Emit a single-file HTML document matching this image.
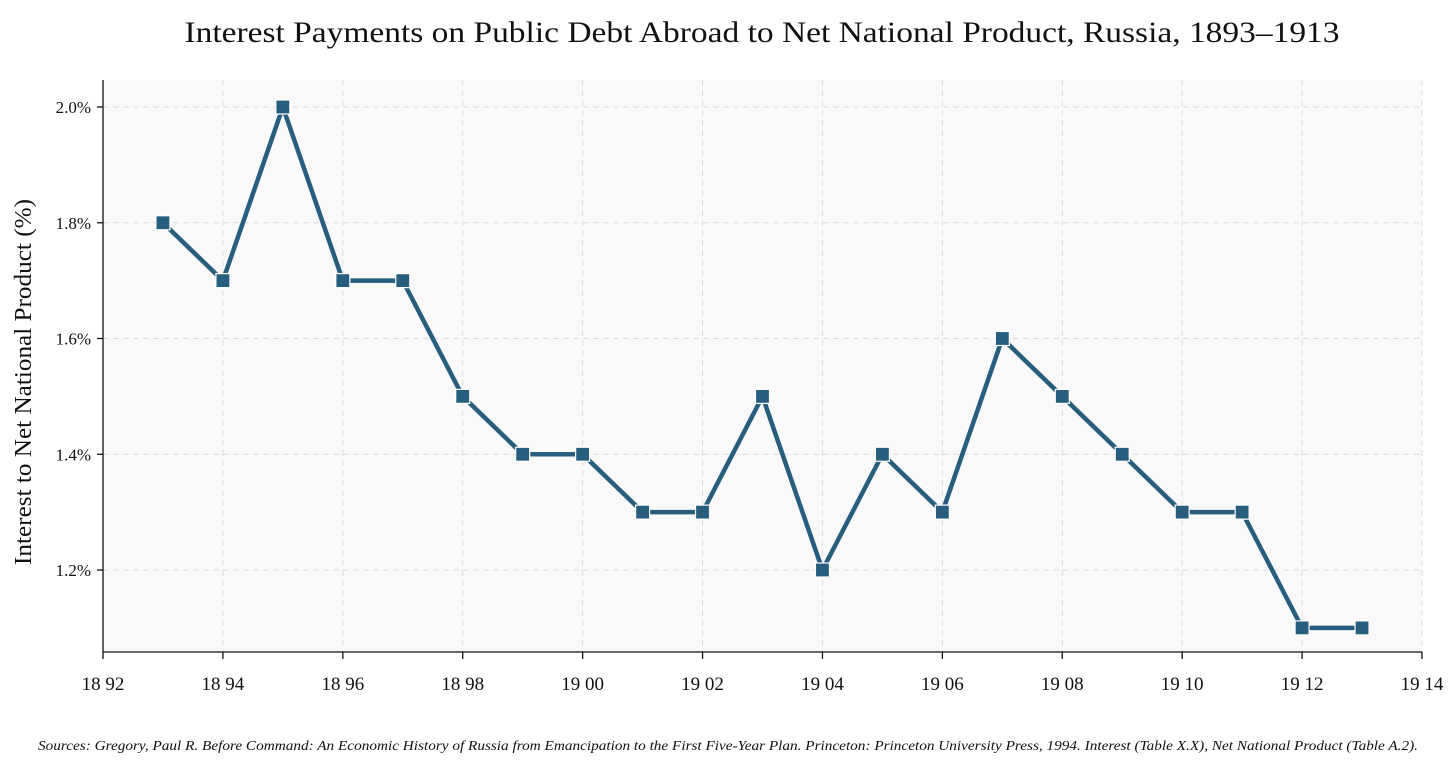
<!DOCTYPE html>
<html><head><meta charset="utf-8"><style>
body{margin:0;background:#fff;}
svg{display:block;font-family:"Liberation Serif",serif;}
</style></head><body>
<svg id="chart" width="1456" height="768">
<text x="762" y="42" text-anchor="middle" font-size="30" fill="#111" textLength="1155" lengthAdjust="spacingAndGlyphs">Interest Payments on Public Debt Abroad to Net National Product, Russia, 1893–1913</text>
<rect x="103" y="80" width="1319" height="572" fill="#f9f9f9"/>
<g id="grid"></g>
<g id="axes"></g>
<g id="series"></g>
<text transform="translate(31,382) rotate(-90)" text-anchor="middle" font-size="24" fill="#111" textLength="366" lengthAdjust="spacingAndGlyphs">Interest to Net National Product (%)</text>
<text x="728" y="750" text-anchor="middle" font-size="14" font-style="italic" fill="#111" textLength="1380" lengthAdjust="spacingAndGlyphs">Sources: Gregory, Paul R. Before Command: An Economic History of Russia from Emancipation to the First Five-Year Plan. Princeton: Princeton University Press, 1994. Interest (Table X.X), Net National Product (Table A.2).</text>
</svg>
<script>
const years=[1893,1894,1895,1896,1897,1898,1899,1900,1901,1902,1903,1904,1905,1906,1907,1908,1909,1910,1911,1912,1913];
const values=[1.8,1.7,2.0,1.7,1.7,1.5,1.4,1.4,1.3,1.3,1.5,1.2,1.4,1.3,1.6,1.5,1.4,1.3,1.3,1.1,1.1];
const xTicks=[1892,1894,1896,1898,1900,1902,1904,1906,1908,1910,1912,1914];
const xTickLabels=["18 92","18 94","18 96","18 98","19 00","19 02","19 04","19 06","19 08","19 10","19 12","19 14"];
const yTicks=[1.2,1.4,1.6,1.8,2.0];
const yTickLabels=["1.2%","1.4%","1.6%","1.8%","2.0%"];
const NS="http://www.w3.org/2000/svg";
const L=103,R=1422,T=80,B=652;
function xs(v){return L+(v-1892)*(R-L)/22;}
function ys(v){return 570-(v-1.2)*578.75;}
function mk(t,a,p){const e=document.createElementNS(NS,t);for(const k in a)e.setAttribute(k,a[k]);p.appendChild(e);return e;}
const grid=document.getElementById('grid'),axes=document.getElementById('axes'),series=document.getElementById('series');
xTicks.forEach((t,i)=>{
 const g=mk('line',{x1:xs(t),x2:xs(t),y1:T,y2:B,stroke:'#ddd','stroke-dasharray':'6,4','stroke-width':1},grid);
 
 
 const tk=mk('line',{x1:xs(t),x2:xs(t),y1:B,y2:B+7,stroke:'#111','stroke-width':1.3},axes);
 
 
 const lb=mk('text',{x:xs(t),y:B+38,'text-anchor':'middle','font-size':19,fill:'#111'},axes);
 lb.textContent=xTickLabels[i];
 
 
});
yTicks.forEach((t,i)=>{
 const g=mk('line',{x1:L,x2:R,y1:ys(t),y2:ys(t),stroke:'#ddd','stroke-dasharray':'6,4','stroke-width':1},grid);
 
 
 const tk=mk('line',{x1:L-6,x2:L,y1:ys(t),y2:ys(t),stroke:'#111','stroke-width':1.3},axes);
 
 
 const lb=mk('text',{x:L-12,y:ys(t)+6,'text-anchor':'end','font-size':17,fill:'#111'},axes);
 lb.textContent=yTickLabels[i];
 
 
});
const ya=mk('line',{x1:L,x2:L,y1:T,y2:B,stroke:'#111','stroke-width':1.3},axes);


const xa=mk('line',{x1:L,x2:R,y1:B,y2:B,stroke:'#111','stroke-width':1.3},axes);


const pts=years.map((y,i)=>xs(y)+','+ys(values[i])).join(' ');
const pl=mk('polyline',{points:pts,fill:'none',stroke:'#275d7d','stroke-width':4.5,'stroke-linejoin':'round'},series);


years.forEach((y,i)=>{
 const r=mk('rect',{x:xs(y)-7,y:ys(values[i])-7,width:14,height:14,fill:'#275d7d',stroke:'#fff','stroke-width':1.2},series);
 
 
});
</script>
</body></html>
